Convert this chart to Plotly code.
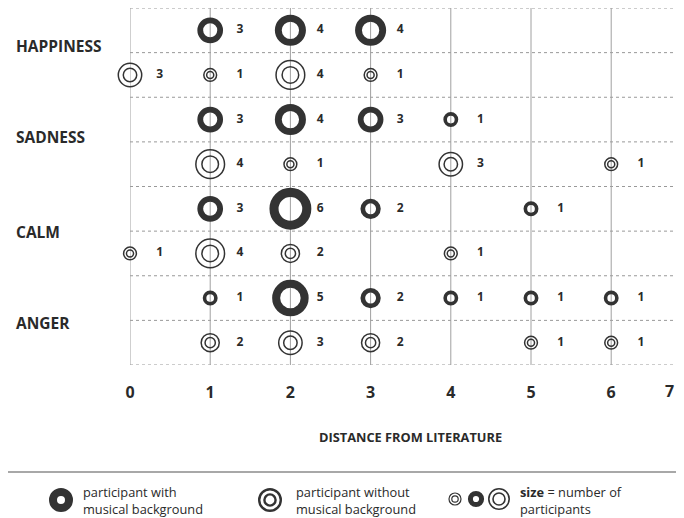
import plotly.graph_objects as go

# ---------------- data ----------------
emotions = ["HAPPINESS", "SADNESS", "CALM", "ANGER"]
x_ticks = [0, 1, 2, 3, 4, 5, 6, 7]

# participants WITH musical background: distance values and counts
happiness_mus_dist = [1, 2, 3]
happiness_mus_count = [3, 4, 4]
sadness_mus_dist = [1, 2, 3, 4]
sadness_mus_count = [3, 4, 3, 1]
calm_mus_dist = [1, 2, 3, 5]
calm_mus_count = [3, 6, 2, 1]
anger_mus_dist = [1, 2, 3, 4, 5, 6]
anger_mus_count = [1, 5, 2, 1, 1, 1]

# participants WITHOUT musical background
happiness_non_dist = [0, 1, 2, 3]
happiness_non_count = [3, 1, 4, 1]
sadness_non_dist = [1, 2, 4, 6]
sadness_non_count = [4, 1, 3, 1]
calm_non_dist = [0, 1, 2, 4]
calm_non_count = [1, 4, 2, 1]
anger_non_dist = [1, 2, 3, 5, 6]
anger_non_count = [2, 3, 2, 1, 1]

musical = [(happiness_mus_dist, happiness_mus_count), (sadness_mus_dist, sadness_mus_count),
           (calm_mus_dist, calm_mus_count), (anger_mus_dist, anger_mus_count)]
nonmusical = [(happiness_non_dist, happiness_non_count), (sadness_non_dist, sadness_non_count),
              (calm_non_dist, calm_non_count), (anger_non_dist, anger_non_count)]

# ---------------- style ----------------
FONT = "Open Sans"
DARK = "#333333"
TXT = "#2a2a2a"
GRID = "#a0a0a0"
LABEL_DX = 0.37
EMOTION_LABEL_Y_PX = [46, 137, 232, 323]   # label placement (page pixels)

PAGE_OFF = 8                      # default page body margin
W, H = 684 - 2 * PAGE_OFF, 518 - PAGE_OFF
ML, MR, MT = 130 - PAGE_OFF, 0, 0
PH = 365 - PAGE_OFF
MB = H - MT - PH
PW = W - ML - MR
UNIT_PX = 80.2
RIGHT_PX = PAGE_OFF + W


def px_to_paper_x(px):
    return (px - PAGE_OFF - ML) / PW


def px_to_paper_y(py):
    return (H - MB - (py - PAGE_OFF)) / PH


def thick_ring(n):
    outer = 9.5 + 5.4 * n
    hole = 4.5 + 3.2 * n
    return (outer + hole) / 2, (outer - hole) / 2


def double_ring(n):
    outer = 9.0 + 5.3 * n
    return outer - 1.5, 0.6 * outer - 1.5


fig = go.Figure()

for gi, emo in enumerate(emotions):
    # musical row
    dist, cnt = musical[gi]
    yrow = 2 * gi
    fig.add_trace(go.Scatter(
        x=dist, y=[yrow] * len(dist), mode="markers", cliponaxis=False,
        marker=dict(symbol="circle-open", size=[thick_ring(c)[0] for c in cnt], color=DARK,
                    opacity=1, line=dict(width=[thick_ring(c)[1] for c in cnt])),
        hoverinfo="skip", showlegend=False))
    fig.add_trace(go.Scatter(
        x=[d + LABEL_DX for d in dist], y=[yrow] * len(dist), mode="text", cliponaxis=False,
        text=["<b>%d</b>" % c for c in cnt],
        textfont=dict(family=FONT, size=12, color=TXT), hoverinfo="skip", showlegend=False))
    # non-musical row
    dist, cnt = nonmusical[gi]
    yrow = 2 * gi + 1
    for k in (0, 1):
        fig.add_trace(go.Scatter(
            x=dist, y=[yrow] * len(dist), mode="markers", cliponaxis=False,
            marker=dict(symbol="circle-open", size=[double_ring(c)[k] for c in cnt],
                        color=DARK, opacity=1, line=dict(width=1.5)),
            hoverinfo="skip", showlegend=False))
    fig.add_trace(go.Scatter(
        x=[d + LABEL_DX for d in dist], y=[yrow] * len(dist), mode="text", cliponaxis=False,
        text=["<b>%d</b>" % c for c in cnt],
        textfont=dict(family=FONT, size=12, color=TXT), hoverinfo="skip", showlegend=False))

shapes = []
n_rows = 2 * len(emotions)
# dotted row separators
for b in range(n_rows + 1):
    shapes.append(dict(type="line", xref="paper", yref="y", x0=0, x1=1, y0=b - 0.5, y1=b - 0.5,
                       line=dict(color="#999999", width=1, dash="dot"), layer="below"))
# vertical grid lines
for t in x_ticks[:-1]:
    shapes.append(dict(type="line", xref="x", yref="paper", x0=t, x1=t, y0=0, y1=1,
                       line=dict(color=GRID, width=1), layer="below"))

# legend separator
shapes.append(dict(type="line", xref="paper", yref="paper",
                   x0=px_to_paper_x(0), x1=px_to_paper_x(RIGHT_PX),
                   y0=px_to_paper_y(472), y1=px_to_paper_y(472),
                   line=dict(color="#a8a8a8", width=2)))


def circle(cx, cy, r, lw):
    return dict(type="circle", xref="paper", yref="paper",
                xsizemode="pixel", ysizemode="pixel",
                xanchor=px_to_paper_x(cx), yanchor=px_to_paper_y(cy),
                x0=-r, x1=r, y0=-r, y1=r, line=dict(color=DARK, width=lw))


# legend icons
shapes.append(circle(61, 500, 8, 8))
shapes.append(circle(270, 500, 10.8, 2.4))
shapes.append(circle(270, 500, 5.6, 2.4))
shapes.append(circle(455, 499, 6, 1.2))
shapes.append(circle(455, 499, 3.2, 1.2))
shapes.append(circle(476, 499, 5.6, 5))
shapes.append(circle(499, 499, 10.2, 1.6))
shapes.append(circle(499, 499, 6.0, 1.6))

annotations = []
for gi, emo in enumerate(emotions):
    annotations.append(dict(text="<b>%s</b>" % emo, xref="paper", yref="paper",
                            x=px_to_paper_x(14), y=px_to_paper_y(EMOTION_LABEL_Y_PX[gi]),
                            xanchor="left", yanchor="middle", showarrow=False,
                            font=dict(family=FONT, size=15.5, color=TXT)))

# last tick label (pushed inside the window edge in the reference)
annotations.append(dict(text="<b>%d</b>" % x_ticks[-1], xref="paper", yref="paper",
                        x=1, y=px_to_paper_y(391), xanchor="right",
                        yanchor="middle", showarrow=False,
                        font=dict(family=FONT, size=16, color=TXT)))
# axis title
annotations.append(dict(text="<b>DISTANCE FROM LITERATURE</b>", xref="paper", yref="paper",
                        x=px_to_paper_x(410), y=px_to_paper_y(437), xanchor="center",
                        yanchor="middle", showarrow=False,
                        font=dict(family=FONT, size=12.8, color=TXT)))

legend_texts = [
    (81, "participant with<br>musical background"),
    (294, "participant without<br>musical background"),
    (518, "<b>size</b> = number of<br>participants"),
]
for x0, txt in legend_texts:
    annotations.append(dict(text=txt, xref="paper", yref="paper", x=px_to_paper_x(x0),
                            y=px_to_paper_y(500), xanchor="left", yanchor="middle",
                            align="left", showarrow=False,
                            font=dict(family=FONT, size=12.8, color=TXT)))

fig.update_layout(
    width=W, height=H,
    margin=dict(l=ML, r=MR, t=MT, b=MB, autoexpand=False),
    paper_bgcolor="white", plot_bgcolor="white",
    showlegend=False,
    shapes=shapes, annotations=annotations,
    xaxis=dict(range=[0, PW / UNIT_PX], tickvals=x_ticks[:-1],
               ticktext=["<b>%d</b>" % t for t in x_ticks[:-1]],
               showgrid=False, zeroline=False, showline=False, ticks="",
               ticklabelstandoff=16,
               tickfont=dict(family=FONT, size=16, color=TXT), fixedrange=True),
    yaxis=dict(range=[n_rows - 0.5, -0.5], showgrid=False, zeroline=False,
               showticklabels=False, showline=False, ticks="", fixedrange=True),
)

fig.write_html("out.html")
